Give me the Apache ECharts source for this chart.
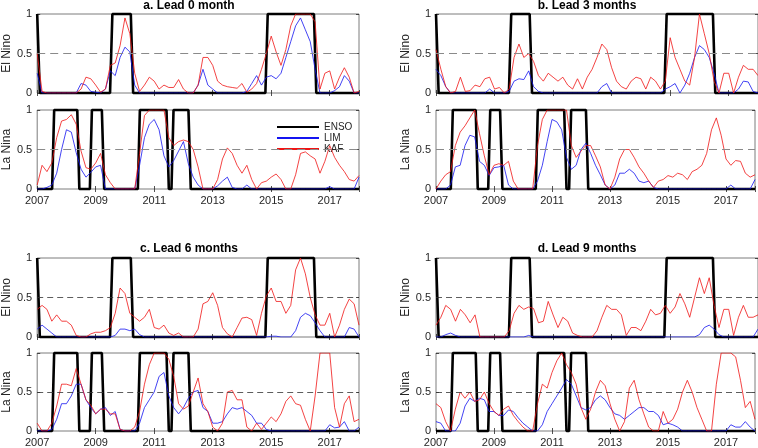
<!DOCTYPE html>
<html><head><meta charset="utf-8">
<script src="https://cdn.jsdelivr.net/npm/echarts@6/dist/echarts.min.js"></script>
<style>html,body{margin:0;padding:0;background:#fff}#c{width:758px;height:448px}</style>
</head><body><div id="c"></div><script>
// ---------------- DATA ----------------
const yearTicks = [2007, 2009, 2011, 2013, 2015, 2017];
const panelTitles = ['a. Lead 0 month', 'b. Lead 3 months', 'c. Lead 6 months', 'd. Lead 9 months'];
const rowNames = ['El Nino', 'La Nina'];
const seriesNames = ['ENSO', 'LIM', 'KAF'];
// sample times: every two months from Jan 2007
const startYear = 2007, stepYears = 1 / 6, nSamples = 67;

// ENSO (observed) breakpoints [year, state]
const ensoNino = [[2007,1],[2007.09,0],[2009.49,0],[2009.57,1],[2010.2,1],[2010.28,0],[2014.8,0],[2014.88,1],[2016.46,1],[2016.54,0],[2018,0]];
const ensoNina = [[2007,0],[2007.51,0],[2007.58,1],[2008.37,1],[2008.44,0],[2008.8,0],[2008.87,1],[2009.21,1],[2009.29,0],[2010.44,0],[2010.51,1],[2011.42,1],[2011.5,0],[2011.59,0],[2011.66,1],[2012.17,1],[2012.25,0],[2018,0]];

// a. Lead 0
const limA_nino = [0.25,0,0,0,0,0,0,0,0, 0.12,0.1,0.02,0.01,0,0.05,0.28,0.22,0.45,0.58,0.52,0.1, 0,0,0,0,0,0,0,0,0,0,0,0, 0.1,0.3,0.1,0.05,0,0,0,0,0,0, 0.02,0.12,0.22,0.1,0.2,0.22,0.18,0.25,0.45,0.65,0.85,0.95,0.8,0.65,0.3, 0,0,0,0.03,0.08,0.22,0.15,0,0];
const kafA_nino = [0.5,0.02,0,0,0,0,0,0,0, 0.05,0.2,0.18,0.1,0.01,0.05,0.35,0.38,0.6,0.95,0.75,0.25, 0.02,0.1,0.2,0.15,0.05,0.1,0.07,0.07,0.17,0.05,0,0, 0.1,0.45,0.45,0.35,0.15,0.1,0.08,0.07,0.06,0.12, 0.01,0.05,0.12,0.3,0.5,0.72,0.52,0.35,0.55,0.85,1,1,1,1,0.9, 0.05,0.25,0.28,0.05,0.2,0.32,0.2,0,0.02];
const limA_nina = [0,0,0.02,0.05,0.2,0.5,0.75,0.72,0.46, 0.25,0.15,0.21,0.28,0.3,0,0,0,0,0,0,0, 0.3,0.65,0.82,0.88,0.75,0.42,0.28,0.36,0.48,0.6,0.32,0.15, 0.05,0,0,0,0.04,0.1,0.15,0.02,0,0, 0.05,0,0,0,0,0,0,0,0,0,0,0,0,0,0, 0,0,0.03,0,0,0,0,0,0.15];
const kafA_nina = [0.05,0.3,0.22,0.33,0.65,0.86,0.88,0.94,0.82, 0.48,0.27,0.25,0.33,0.45,0.18,0.08,0,0,0,0,0, 0.45,0.93,1,1,1,1,0.65,0.55,0.6,0.62,0.6,0.5, 0.28,0,0,0,0.12,0.38,0.52,0.45,0.3,0.2, 0.3,0.12,0,0.08,0.1,0.15,0.19,0.12,0,0,0.18,0.45,0.47,0.42,0.38, 0.2,0.35,0.55,0.4,0.3,0.22,0.12,0.1,0.17];
// b. Lead 3
const limB_nino = [0.3,0.22,0.08,0,0,0,0,0,0, 0,0,0.05,0,0,0,0.02,0.15,0.18,0.17,0.28,0.08, 0.02,0,0,0,0,0,0,0,0,0,0,0, 0,0.08,0.12,0,0,0,0,0,0,0, 0,0,0,0,0.05,0.08,0.12,0,0.1,0.25,0.45,0.6,0.55,0.45,0.25, 0,0,0,0,0.05,0.15,0.14,0.02,0];
const kafB_nino = [0.55,0.3,0.08,0,0.02,0.2,0.02,0.03,0.1, 0.08,0.18,0.2,0.05,0.07,0,0.05,0.45,0.62,0.45,0.5,0.4, 0.22,0.15,0.25,0.2,0.15,0.2,0.1,0.05,0.18,0.05,0.2,0.3, 0.45,0.62,0.55,0.32,0.15,0.08,0.05,0.15,0.2,0.18, 0.05,0.2,0.15,0.05,0.15,0.7,0.45,0.3,0.15,0.1,0.45,1,0.75,0.5,0.15, 0,0.25,0.25,0,0.2,0.35,0.3,0.3,0.22];
const limB_nina = [0,0,0,0.05,0.28,0.3,0.55,0.68,0.66, 0.35,0.3,0.17,0.27,0.28,0.3,0.05,0,0,0,0,0, 0.1,0.3,0.6,0.88,0.85,0.75,0.4,0.25,0.3,0.5,0.58,0.45, 0.3,0.18,0.05,0,0.05,0.2,0.2,0.25,0.2,0.1, 0.08,0.1,0.02,0,0,0,0,0,0,0,0,0,0,0,0, 0,0,0,0.05,0,0,0,0,0.12];
const kafB_nina = [0,0.1,0.18,0.22,0.55,0.72,0.8,0.9,1, 0.7,0.42,0.18,0.3,0.32,0.3,0.35,0.1,0,0,0,0, 0.55,0.88,1,1,1,1,1,0.55,0.4,0.48,0.55,0.55, 0.42,0.28,0.05,0,0.15,0.38,0.5,0.5,0.4,0.28, 0.2,0.1,0.02,0.1,0.12,0.17,0.15,0.2,0.18,0.12,0.22,0.25,0.3,0.45,0.75, 0.9,0.68,0.38,0.3,0.36,0.35,0.2,0.15,0.18];
// c. Lead 6
const limC_nino = [0.1,0.15,0.1,0.05,0,0,0,0,0, 0,0,0,0,0,0,0,0.02,0.1,0.1,0.08,0.1, 0.03,0,0,0,0,0,0,0,0,0,0,0, 0,0,0,0,0,0,0,0,0,0, 0,0,0,0,0,0.01,0.01,0,0,0,0.08,0.25,0.3,0.27,0.18, 0.08,0,0,0,0,0,0.12,0.1,0];
const kafC_nino = [0.35,0.4,0.35,0.2,0.28,0.2,0.2,0.15,0.02, 0,0,0.04,0.06,0.06,0.08,0.12,0.3,0.62,0.55,0.3,0.25, 0.2,0.25,0.35,0.12,0.1,0.15,0.05,0.02,0.05,0,0,0, 0.1,0.42,0.45,0.56,0.4,0.12,0.04,0,0.12,0.24, 0.25,0.22,0.02,0.3,0.52,0.62,0.45,0.45,0.3,0.4,0.85,1,0.8,0.5,0.28, 0.15,0.15,0.3,0,0.15,0.35,0.48,0.42,0.15];
const limC_nina = [0,0,0,0.02,0.15,0.35,0.35,0.45,0.6, 0.6,0.4,0.3,0.22,0.28,0.3,0.2,0.25,0.02,0,0,0, 0.1,0.3,0.4,0.5,0.7,0.75,0.45,0.3,0.22,0.3,0.42,0.5, 0.52,0.3,0.25,0.1,0.1,0.12,0.22,0.3,0.28,0.3, 0.25,0.2,0.1,0.1,0.02,0,0,0,0,0,0,0,0,0,0, 0,0,0.08,0.04,0.05,0.12,0,0,0.05];
const kafC_nina = [0.1,0,0,0.1,0.32,0.6,0.6,0.58,0.8, 0.6,0.4,0.33,0.22,0.28,0.28,0.22,0.22,0.02,0,0,0.05, 0.25,0.6,0.85,1,1,1,0.92,0.7,0.35,0.28,0.32,0.5, 0.68,0.35,0.25,0.05,0,0.1,0.5,0.52,0.4,0.4, 0.05,0,0.1,0.02,0.1,0.18,0.12,0.22,0.38,0.45,0.35,0.33,0.15,0,0.45, 1,1,1,0.3,0.05,0.35,0.45,0.12,0.15];
// d. Lead 9
const limD_nino = [0,0,0.03,0.05,0.02,0,0,0,0, 0,0,0,0,0,0,0,0,0,0,0.02,0, 0,0,0,0,0,0,0,0,0,0,0,0, 0,0,0,0,0,0,0,0,0,0, 0,0,0,0,0,0,0,0,0,0,0,0.03,0.12,0.15,0.1, 0.03,0,0,0,0,0,0,0,0.1];
const kafD_nino = [0.15,0.25,0.4,0.35,0.2,0.35,0.28,0.18,0.28, 0,0,0,0,0,0,0.08,0.3,0.4,0.35,0.38,0.36, 0.18,0.2,0.45,0.28,0.12,0.25,0.2,0.05,0.02,0,0,0, 0.08,0.25,0.4,0.35,0.35,0.28,0.02,0.12,0.12,0.08, 0.2,0.35,0.28,0.3,0.4,0.3,0.38,0.55,0.42,0.25,0.5,0.75,0.55,0.75,0.4, 0.12,0.35,0.35,0.02,0.25,0.4,0.25,0.25,0.28];
const limD_nina = [0.12,0.1,0,0,0,0.1,0.32,0.42,0.38, 0.42,0.4,0.25,0.25,0.2,0.2,0.27,0.25,0.17,0.1,0.05,0, 0,0.08,0.25,0.35,0.45,0.55,0.66,0.6,0.45,0.3,0.27,0.3, 0.4,0.45,0.4,0.3,0.22,0.2,0.15,0.2,0.25,0.3, 0.3,0.25,0.25,0.2,0.08,0.1,0.08,0.05,0,0,0,0,0,0,0, 0,0,0,0.08,0.05,0.05,0.12,0.05,0];
const kafD_nina = [0.35,0.3,0.12,0,0.28,0.5,0.42,0.5,0.38, 0.4,0.5,0.35,0.25,0.2,0.28,0.32,0.2,0.12,0.05,0,0, 0.35,0.6,0.55,0.75,0.9,1,0.85,0.75,0.6,0.3,0.15,0.28, 0.5,0.65,0.58,0.35,0.15,0,0.12,0.55,0.65,0.4, 0.22,0.05,0,0,0.25,0.1,0.15,0.28,0.5,0.65,0.5,0.3,0.15,0,0, 0.6,1,1,1,0.95,0.65,0.3,0.38,0.15];

const limData = [[limA_nino, limA_nina], [limB_nino, limB_nina], [limC_nino, limC_nina], [limD_nino, limD_nina]];
const kafData = [[kafA_nino, kafA_nina], [kafB_nino, kafB_nina], [kafC_nino, kafC_nina], [kafD_nino, kafD_nina]];
const ensoData = [ensoNino, ensoNina];

// ---------------- LAYOUT / STYLE ----------------
const FONT = '"Liberation Sans", Arial, Helvetica, sans-serif';
const TXT = '#262626';
const W = 322, H = 79;
const LAYOUT = [
  {left: 37,  tops: [14, 110],  titleX: 189, titleY: 6,   dash: {color: '#8a8a8a', type: [8, 5], width: 1.2}},
  {left: 436, tops: [14, 110],  titleX: 587, titleY: 6,   dash: {color: '#8a8a8a', type: [8, 5], width: 1.2}},
  {left: 37,  tops: [258, 353], titleX: 189, titleY: 249, dash: {color: '#333333', type: [6, 4], width: 0.8}},
  {left: 436, tops: [258, 353], titleX: 587, titleY: 249, dash: {color: '#333333', type: [6, 4], width: 0.8}}
];

const T = [];
for (let i = 0; i < nSamples; i++) T.push(startYear + i * stepYears);
const pairs = arr => arr.map((v, i) => [T[i], v]);

const grids = [], xMain = [], xTop = [], yMain = [], yRight = [], series = [], graphics = [];
const tickStyle = {inside: true, length: 3, lineStyle: {color: TXT, width: 0.8}};

for (let p = 0; p < 4; p++) {
  const L = LAYOUT[p];
  graphics.push({type: 'text', x: L.titleX, y: L.titleY, silent: true,
    style: {text: panelTitles[p], textAlign: 'center', textVerticalAlign: 'middle',
      font: 'bold 12px ' + FONT, fill: '#000'}});
  for (let s = 0; s < 2; s++) {
    const g = p * 2 + s;
    grids.push({left: L.left, top: L.tops[s], width: W, height: H, show: true,
      borderColor: '#5a5a5a', borderWidth: 0.8, backgroundColor: 'transparent'});
    xMain.push({gridIndex: g, type: 'value', min: 2007, max: 2018, interval: 2,
      axisLine: {show: false}, splitLine: {show: false}, axisTick: tickStyle,
      axisLabel: {show: s === 1, fontSize: 11, fontFamily: FONT, color: TXT, margin: 6,
        formatter: v => yearTicks.includes(v) ? String(v) : ''}});
    xTop.push({gridIndex: g, type: 'value', position: 'top', min: 2007, max: 2018, interval: 2,
      axisLine: {show: false}, splitLine: {show: false}, axisTick: tickStyle, axisLabel: {show: false}});
    yMain.push({gridIndex: g, type: 'value', min: 0, max: 1, interval: 0.5,
      name: rowNames[s], nameLocation: 'middle', nameGap: 23,
      nameTextStyle: {fontSize: 12, fontFamily: FONT, color: TXT},
      axisLine: {show: false}, splitLine: {show: false}, axisTick: tickStyle,
      axisLabel: {fontSize: 11, fontFamily: FONT, color: TXT, margin: 5}});
    yRight.push({gridIndex: g, type: 'value', position: 'right', min: 0, max: 1, interval: 0.5,
      axisLine: {show: false}, splitLine: {show: false}, axisTick: tickStyle, axisLabel: {show: false}});

    series.push({type: 'line', name: seriesNames[0], xAxisIndex: g, yAxisIndex: g,
      data: ensoData[s], symbol: 'none', clip: false, z: 2,
      lineStyle: {color: '#000', width: 2.6}, itemStyle: {color: '#000'}});
    series.push({type: 'line', name: seriesNames[1], xAxisIndex: g, yAxisIndex: g,
      data: pairs(limData[p][s]), symbol: 'none', z: 3,
      lineStyle: {color: '#1414f0', width: 0.8}, itemStyle: {color: '#1414f0'},
      markLine: {silent: true, symbol: 'none', label: {show: false}, animation: false,
        lineStyle: L.dash, data: [{yAxis: 0.5}]}});
    series.push({type: 'line', name: seriesNames[2], xAxisIndex: g, yAxisIndex: g,
      data: pairs(kafData[p][s]), symbol: 'none', z: 4,
      lineStyle: {color: '#f01414', width: 0.8}, itemStyle: {color: '#f01414'}});
  }
}

const chart = echarts.init(document.getElementById('c'), null, {renderer: 'canvas'});
chart.setOption({
  animation: false,
  backgroundColor: '#fff',
  grid: grids,
  xAxis: xMain.concat(xTop),
  yAxis: yMain.concat(yRight),
  legend: {data: seriesNames, orient: 'vertical', left: 271, top: 117, itemWidth: 42, itemHeight: 10,
    itemGap: 1, selectedMode: false,
    itemStyle: {color: 'rgba(0,0,0,0)', borderColor: 'rgba(0,0,0,0)', borderWidth: 0, opacity: 0},
    textStyle: {fontSize: 10, lineHeight: 10, fontFamily: FONT, color: TXT}},
  graphic: graphics,
  series: series
});
</script></body></html>
